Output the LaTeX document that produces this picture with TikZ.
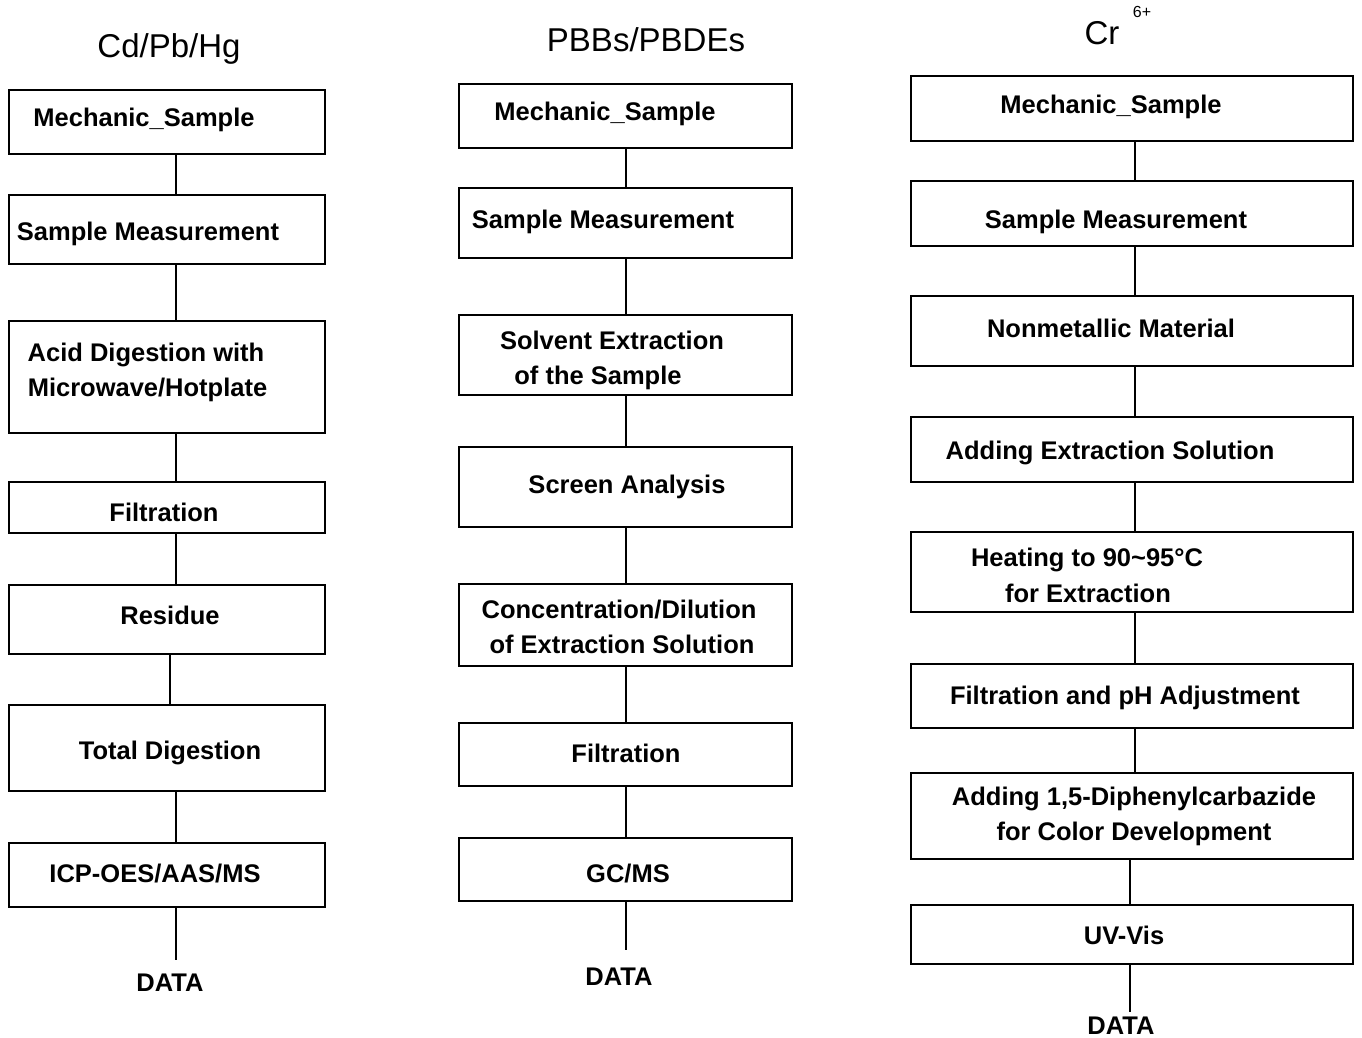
\documentclass[tikz,border=0pt]{standalone}
\usepackage{fontspec}
\setmainfont{Liberation Sans}
\begin{document}
\begin{tikzpicture}[x=1pt,y=-1pt,
  box/.style={draw,line width=2.6pt,inner sep=0pt,rectangle},
  t/.style={inner sep=0pt,text height=18.3pt,text depth=0pt,font=\bfseries\fontsize{25.5}{30}\selectfont},
  ttl/.style={inner sep=0pt,text height=23.6pt,text depth=0pt,font=\fontsize{33}{38}\selectfont},
  conn/.style={line width=2.6pt}]
\useasboundingbox (0,0) rectangle (1362,1037);
% titles
\node[ttl] (tL) at (169,46) {Cd/Pb/Hg};
\node[ttl] (tM) at (646,40) {PBBs/PBDEs};
\node[ttl] (tR) at (1102,33) {Cr};
\node[inner sep=0pt,font=\fontsize{16}{18}\selectfont] (tRs) at (1142,12) {6+};
% x positions of connectors
\coordinate (lx) at (176,0);
\coordinate (lx2) at (170,0);
\coordinate (mx) at (626,0);
\coordinate (rx) at (1135,0);
\coordinate (rx2) at (1130,0);
% left column
\node[box,minimum width=316pt,minimum height=64pt] (L1) at (167,122) {};
\node[box,minimum width=316pt,minimum height=69pt] (L2) at (167,229.5) {};
\node[box,minimum width=316pt,minimum height=112pt] (L3) at (167,377) {};
\node[box,minimum width=316pt,minimum height=51pt] (L4) at (167,507.5) {};
\node[box,minimum width=316pt,minimum height=69pt] (L5) at (167,619.5) {};
\node[box,minimum width=316pt,minimum height=86pt] (L6) at (167,748) {};
\node[box,minimum width=316pt,minimum height=64pt] (L7) at (167,875) {};
\node[t] (L1t) at (144,117) {Mechanic\_Sample};
\node[t] (L2t) at (148,231) {Sample Measurement};
\node[t] (L3a) at (146,352) {Acid Digestion with};
\node[t] (L3b) at (147.5,387) {Microwave/Hotplate};
\node[t] (L4t) at (164,512) {Filtration};
\node[t] (L5t) at (170,615) {Residue};
\node[t] (L6t) at (170,750) {Total Digestion};
\node[t] (L7t) at (155,873) {ICP-OES/AAS/MS};
\node[t] (dL) at (170,982) {DATA};
\draw[conn] (L1.south -| lx) -- (L2.north -| lx);
\draw[conn] (L2.south -| lx) -- (L3.north -| lx);
\draw[conn] (L3.south -| lx) -- (L4.north -| lx);
\draw[conn] (L4.south -| lx) -- (L5.north -| lx);
\draw[conn] (L5.south -| lx2) -- (L6.north -| lx2);
\draw[conn] (L6.south -| lx) -- (L7.north -| lx);
\draw[conn] (L7.south -| lx) -- ([yshift=13pt]dL.north -| lx);
% middle column
\node[box,minimum width=333pt,minimum height=64pt] (M1) at (625.5,116) {};
\node[box,minimum width=333pt,minimum height=70pt] (M2) at (625.5,223) {};
\node[box,minimum width=333pt,minimum height=80pt] (M3) at (625.5,355) {};
\node[box,minimum width=333pt,minimum height=80pt] (M4) at (625.5,487) {};
\node[box,minimum width=333pt,minimum height=82pt] (M5) at (625.5,625) {};
\node[box,minimum width=333pt,minimum height=63pt] (M6) at (625.5,754.5) {};
\node[box,minimum width=333pt,minimum height=63pt] (M7) at (625.5,869.5) {};
\node[t] (M1t) at (605,111) {Mechanic\_Sample};
\node[t] (M2t) at (603,219) {Sample Measurement};
\node[t] (M3a) at (612,340) {Solvent Extraction};
\node[t] (M3b) at (598,375) {of the Sample};
\node[t] (M4t) at (627,484) {Screen Analysis};
\node[t] (M5a) at (619,609) {Concentration/Dilution};
\node[t] (M5b) at (622,644) {of Extraction Solution};
\node[t] (M6t) at (626,753) {Filtration};
\node[t] (M7t) at (628,873) {GC/MS};
\node[t] (dM) at (619,976) {DATA};
\draw[conn] (M1.south -| mx) -- (M2.north -| mx);
\draw[conn] (M2.south -| mx) -- (M3.north -| mx);
\draw[conn] (M3.south -| mx) -- (M4.north -| mx);
\draw[conn] (M4.south -| mx) -- (M5.north -| mx);
\draw[conn] (M5.south -| mx) -- (M6.north -| mx);
\draw[conn] (M6.south -| mx) -- (M7.north -| mx);
\draw[conn] (M7.south -| mx) -- ([yshift=17pt]dM.north -| mx);
% right column
\node[box,minimum width=442pt,minimum height=65pt] (R1) at (1132,108.5) {};
\node[box,minimum width=442pt,minimum height=65pt] (R2) at (1132,213.5) {};
\node[box,minimum width=442pt,minimum height=70pt] (R3) at (1132,331) {};
\node[box,minimum width=442pt,minimum height=65pt] (R4) at (1132,449.5) {};
\node[box,minimum width=442pt,minimum height=80pt] (R5) at (1132,572) {};
\node[box,minimum width=442pt,minimum height=64pt] (R6) at (1132,696) {};
\node[box,minimum width=442pt,minimum height=86pt] (R7) at (1132,816) {};
\node[box,minimum width=442pt,minimum height=59pt] (R8) at (1132,934.5) {};
\node[t] (R1t) at (1111,104) {Mechanic\_Sample};
\node[t] (R2t) at (1116,219) {Sample Measurement};
\node[t] (R3t) at (1111,328) {Nonmetallic Material};
\node[t] (R4t) at (1110,450) {Adding Extraction Solution};
\node[t] (R5a) at (1087,557) {Heating to 90\textasciitilde95°C};
\node[t] (R5b) at (1088,593) {for Extraction};
\node[t] (R6t) at (1125,695) {Filtration and pH Adjustment};
\node[t] (R7a) at (1134,796) {Adding 1,5-Diphenylcarbazide};
\node[t] (R7b) at (1134,831) {for Color Development};
\node[t] (R8t) at (1124,935) {UV-Vis};
\node[t] (dR) at (1121,1025) {DATA};
\draw[conn] (R1.south -| rx) -- (R2.north -| rx);
\draw[conn] (R2.south -| rx) -- (R3.north -| rx);
\draw[conn] (R3.south -| rx) -- (R4.north -| rx);
\draw[conn] (R4.south -| rx) -- (R5.north -| rx);
\draw[conn] (R5.south -| rx) -- (R6.north -| rx);
\draw[conn] (R6.south -| rx) -- (R7.north -| rx);
\draw[conn] (R7.south -| rx2) -- (R8.north -| rx2);
\draw[conn] (R8.south -| rx2) -- ([yshift=4pt]dR.north -| rx2);
\end{tikzpicture}
\end{document}
